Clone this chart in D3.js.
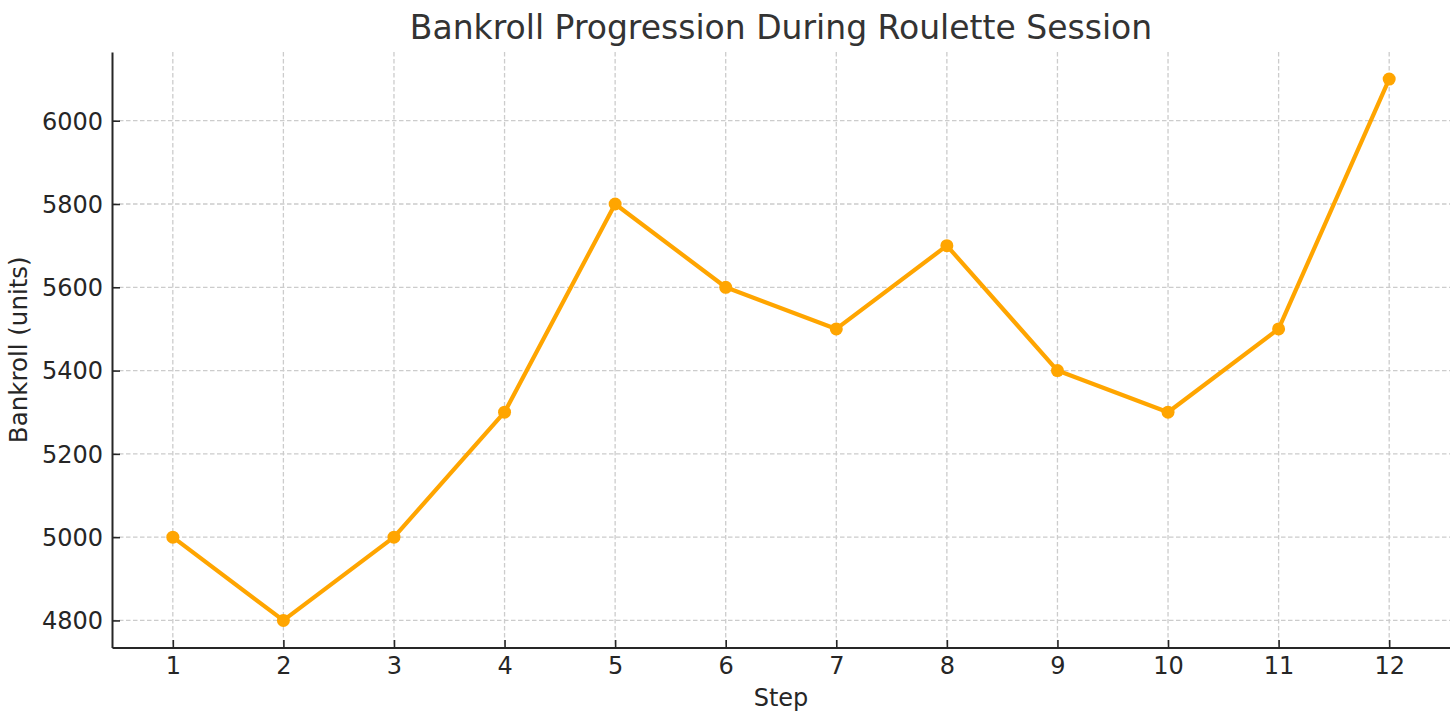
<!DOCTYPE html>
<html>
<head>
<meta charset="utf-8">
<script src="https://cdn.jsdelivr.net/npm/d3@7"></script>
<style>
  body { margin: 0; background: #fff; }
  text { font-family: "DejaVu Sans", sans-serif; }
</style>
</head>
<body>
<script>
// chart data
var steps = [1, 2, 3, 4, 5, 6, 7, 8, 9, 10, 11, 12];
var bankroll = [5000, 4800, 5000, 5300, 5800, 5600, 5500, 5700, 5400, 5300, 5500, 6100];
var yTicks = [4800, 5000, 5200, 5400, 5600, 5800, 6000];

var width = 1450, height = 722;
var margin = {left: 112, right: 0, top: 52, bottom: 74.5};

var svg = d3.select("body").append("svg")
    .attr("width", width)
    .attr("height", height);

var xScale = d3.scaleLinear()
    .domain([0.45, 12.55])
    .range([margin.left, width - margin.right]);
var yScale = d3.scaleLinear()
    .domain([4735, 6165])
    .range([height - margin.bottom, margin.top]);

var g = svg.append("g");

// grid
g.selectAll(".vgrid").data(steps).enter().append("line")
    .attr("x1", d => xScale(d)).attr("x2", d => xScale(d))
    .attr("y1", margin.top).attr("y2", height - margin.bottom)
    .attr("stroke", "#cccccc").attr("stroke-width", 1.3)
    .attr("stroke-dasharray", "4.5,2.5");
g.selectAll(".hgrid").data(yTicks).enter().append("line")
    .attr("x1", margin.left).attr("x2", width - margin.right)
    .attr("y1", d => yScale(d)).attr("y2", d => yScale(d))
    .attr("stroke", "#cccccc").attr("stroke-width", 1.3)
    .attr("stroke-dasharray", "4.5,2.5");

// axes (ticks point inward)
var xAxis = g.append("g")
    .attr("transform", "translate(0," + (height - margin.bottom) + ")")
    .call(d3.axisBottom(xScale).tickValues(steps).tickFormat(d3.format("d")).tickSize(-7.5).tickSizeOuter(0));
var yAxis = g.append("g")
    .attr("transform", "translate(" + margin.left + ",0)")
    .call(d3.axisLeft(yScale).tickValues(yTicks).tickFormat(d3.format("d")).tickSize(-8).tickSizeOuter(0));

[xAxis, yAxis].forEach(function(a){
    a.select(".domain").attr("stroke", "#262626").attr("stroke-width", 2);
    a.selectAll(".tick line").attr("stroke", "#262626").attr("stroke-width", 1.6);
    a.selectAll(".tick text").attr("fill", "#262626")
        .style("font-size", "24px")
        .style("font-family", "DejaVu Sans, sans-serif");
});
xAxis.selectAll(".tick text").attr("dy", "0").attr("y", 26.5);
yAxis.selectAll(".tick text").attr("x", -9).attr("dy", "0.35em");

// line
var line = d3.line()
    .x((d, i) => xScale(steps[i]))
    .y(d => yScale(d));
g.append("path")
    .datum(bankroll)
    .attr("fill", "none")
    .attr("stroke", "#FFA500")
    .attr("stroke-width", 4.2)
    .attr("stroke-linejoin", "round")
    .attr("d", line);

g.selectAll(".dot").data(bankroll).enter().append("circle")
    .attr("cx", (d, i) => xScale(steps[i]))
    .attr("cy", d => yScale(d))
    .attr("r", 6.5)
    .attr("fill", "#FFA500");

// labels
svg.append("text")
    .attr("x", (margin.left + width - margin.right) / 2)
    .attr("y", 39)
    .attr("text-anchor", "middle")
    .attr("fill", "#333")
    .style("font-size", "33px")
    .text("Bankroll Progression During Roulette Session");

svg.append("text")
    .attr("x", (margin.left + width - margin.right) / 2)
    .attr("y", 706)
    .attr("text-anchor", "middle")
    .attr("fill", "#262626")
    .style("font-size", "24px")
    .text("Step");

svg.append("text")
    .attr("transform", "translate(27," + ((margin.top + height - margin.bottom) / 2) + ") rotate(-90)")
    .attr("text-anchor", "middle")
    .attr("fill", "#262626")
    .style("font-size", "24.5px")
    .text("Bankroll (units)");
</script>
</body>
</html>
